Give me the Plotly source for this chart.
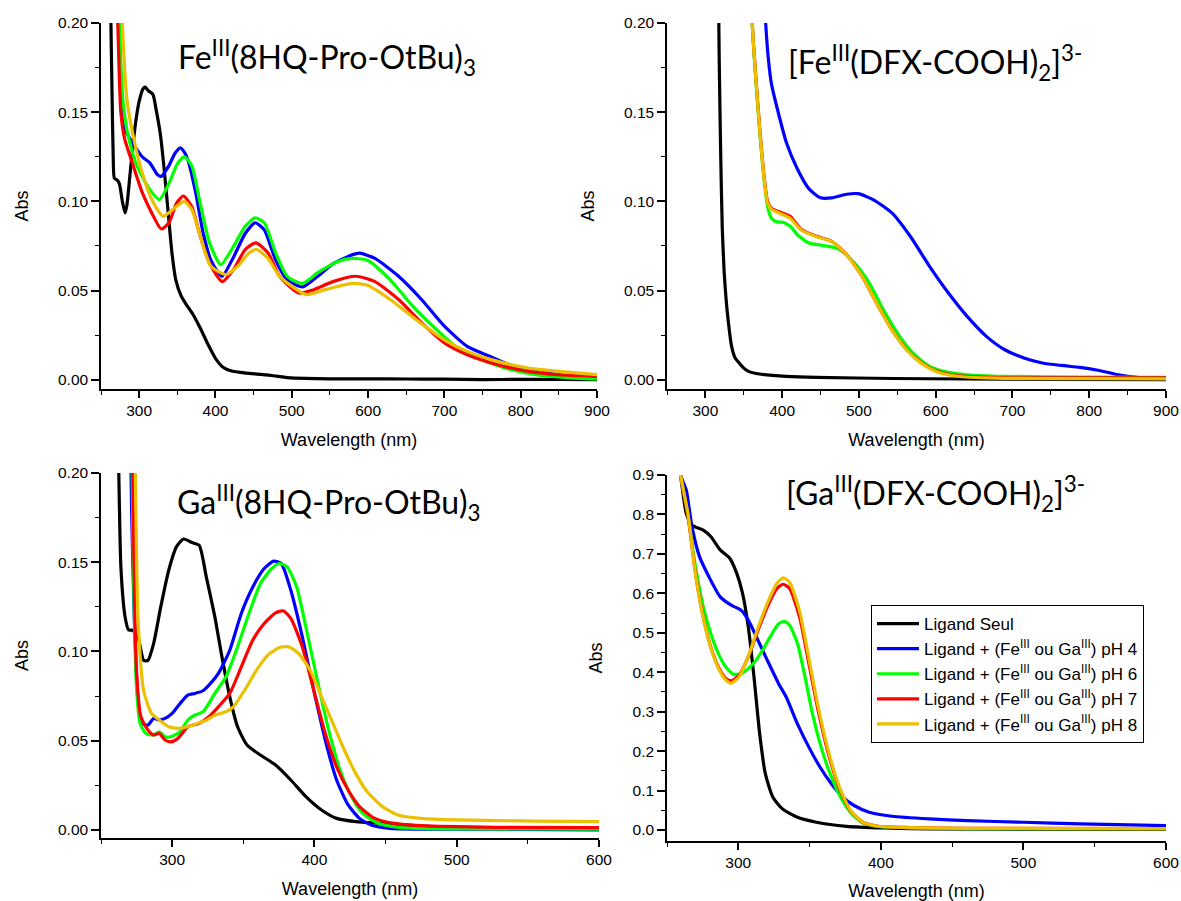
import plotly.graph_objects as go

# ---------------- Panel 1 : Fe(III)(8HQ-Pro-OtBu)3 ----------------
p1_black_wl = [261, 263, 264.5, 266, 267.5, 271, 274, 278, 281.5, 284, 288, 292, 296, 300, 305, 308, 312, 318, 322, 328, 333, 338, 343, 348, 355, 362, 370, 380, 390, 400, 410, 420, 440, 460, 480, 500, 550, 600, 650, 700, 750, 800, 850, 900]
p1_black_abs = [0.26, 0.2, 0.16, 0.125, 0.113, 0.112, 0.110, 0.100, 0.0935, 0.098, 0.115, 0.132, 0.146, 0.156, 0.163, 0.164, 0.162, 0.160, 0.152, 0.137, 0.117, 0.094, 0.071, 0.056, 0.047, 0.042, 0.037, 0.029, 0.020, 0.012, 0.007, 0.005, 0.0037, 0.003, 0.002, 0.001, 0.0005, 0.0005, 0.0004, 0.0003, 0.0001, 0.0002, 0.0002, 0.0001]
p1_blue_wl = [271, 274, 276, 279, 284, 294, 304, 314, 324, 329, 339, 347, 354, 360, 364, 374, 384, 394, 404, 409, 424, 439, 452, 464, 479, 494, 514, 534, 554, 579, 589, 609, 640, 670, 700, 730, 760, 790, 820, 850, 900]
p1_blue_abs = [0.26, 0.2, 0.165, 0.143, 0.138, 0.131, 0.125, 0.1216, 0.115, 0.114, 0.120, 0.127, 0.130, 0.127, 0.123, 0.105, 0.082, 0.067, 0.060, 0.058, 0.069, 0.082, 0.088, 0.084, 0.067, 0.056, 0.052, 0.058, 0.065, 0.070, 0.071, 0.068, 0.058, 0.045, 0.030, 0.0187, 0.013, 0.0075, 0.0047, 0.0028, 0.001]
p1_green_wl = [271, 274, 279, 284, 289, 296, 304, 314, 326.5, 339, 350, 359, 369, 379, 392, 407, 424, 439, 452, 464, 479, 494, 514, 534, 559, 579, 599, 629, 659, 690, 720, 750, 780, 820, 860, 900]
p1_green_abs = [0.26, 0.2, 0.155, 0.14, 0.131, 0.121, 0.114, 0.1066, 0.101, 0.110, 0.121, 0.125, 0.120, 0.101, 0.077, 0.0645, 0.075, 0.086, 0.0907, 0.088, 0.071, 0.058, 0.054, 0.060, 0.066, 0.068, 0.067, 0.056, 0.041, 0.028, 0.0168, 0.011, 0.0065, 0.0028, 0.0012, 0.0004]
p1_red_wl = [269, 272, 276, 281, 291, 304, 316.5, 329, 339, 349, 358, 369, 379, 392, 409, 424, 439, 453, 469, 484, 509, 529, 554, 584, 609, 640, 670, 700, 730, 770, 810, 850, 900]
p1_red_abs = [0.26, 0.2, 0.15, 0.135, 0.1216, 0.105, 0.0935, 0.0845, 0.088, 0.099, 0.103, 0.097, 0.082, 0.0655, 0.055, 0.062, 0.073, 0.0767, 0.071, 0.058, 0.0486, 0.0505, 0.055, 0.058, 0.055, 0.045, 0.032, 0.0206, 0.014, 0.0084, 0.0047, 0.0028, 0.0019]
p1_yellow_wl = [274, 278, 284, 294, 304, 316.5, 331.5, 344, 359, 369, 379, 394, 414, 429, 444, 454, 469, 484, 519, 544, 579, 599, 629, 665, 700, 730, 770, 810, 850, 900]
p1_yellow_abs = [0.26, 0.2, 0.157, 0.133, 0.116, 0.101, 0.0916, 0.0954, 0.100, 0.0954, 0.082, 0.0636, 0.059, 0.0636, 0.071, 0.073, 0.068, 0.058, 0.0477, 0.0505, 0.054, 0.053, 0.045, 0.033, 0.0224, 0.0159, 0.0103, 0.0065, 0.0047, 0.0028]

# ---------------- Panel 2 : [Fe(III)(DFX-COOH)2]3- ----------------
p2_black_wl = [316, 318, 320, 322, 324.5, 327, 330, 334, 339, 344, 350, 356, 366, 380, 405, 445, 545, 640, 750, 900]
p2_black_abs = [0.26, 0.18, 0.125, 0.085, 0.06, 0.045, 0.032, 0.019, 0.012, 0.0094, 0.0065, 0.0047, 0.0035, 0.0027, 0.0019, 0.0013, 0.0007, 0.0004, 0.0002, 0.0]
p2_blue_wl = [375, 378.5, 382, 386, 396, 405.5, 420, 435, 450, 464.5, 484, 499, 518.5, 543, 567.5, 592, 616.6, 641, 666, 690, 715, 739, 764, 788, 813, 837.5, 862, 900]
p2_blue_abs = [0.23, 0.2, 0.18, 0.166, 0.148, 0.133, 0.118, 0.107, 0.102, 0.102, 0.104, 0.1043, 0.101, 0.0935, 0.080, 0.0636, 0.0486, 0.0355, 0.0243, 0.0168, 0.0122, 0.0094, 0.008, 0.0069, 0.0052, 0.0028, 0.0013, 0.0004]
p2_green_wl = [359, 361, 366, 371, 376, 381, 386, 393, 401, 410.5, 420, 435, 454.6, 474, 494, 513.5, 533, 553, 572.5, 592, 616.6, 641, 690, 788, 900]
p2_green_abs = [0.23, 0.2, 0.166, 0.138, 0.114, 0.097, 0.0905, 0.0885, 0.0883, 0.086, 0.0813, 0.0767, 0.0752, 0.0733, 0.0655, 0.0542, 0.0383, 0.0243, 0.014, 0.0075, 0.0041, 0.0028, 0.0019, 0.0015, 0.0013]
p2_red_wl = [359, 361, 366, 371, 376, 381, 386, 396, 410.5, 425, 445, 464.5, 484, 504, 523, 543, 562.6, 582, 602, 631, 690, 800, 900]
p2_red_abs = [0.23, 0.2, 0.168, 0.14, 0.116, 0.100, 0.096, 0.0942, 0.0916, 0.0842, 0.0804, 0.0776, 0.0701, 0.058, 0.043, 0.028, 0.0168, 0.0094, 0.0047, 0.0022, 0.0011, 0.001, 0.001]
p2_yellow_wl = [359, 361, 366, 371, 376, 381, 386, 396, 410.5, 425, 445, 464.5, 484, 504, 523, 543, 562.6, 582, 602, 631, 690, 800, 900]
p2_yellow_abs = [0.23, 0.2, 0.167, 0.139, 0.115, 0.099, 0.0955, 0.0935, 0.0905, 0.0838, 0.0802, 0.0775, 0.070, 0.058, 0.043, 0.0278, 0.0165, 0.009, 0.0043, 0.0018, 0.0008, 0.0006, 0.0005]

# ---------------- Panel 3 : Ga(III)(8HQ-Pro-OtBu)3 ----------------
p3_black_wl = [261, 262.5, 264, 267, 269.4, 272, 276, 280, 283, 287, 292, 297.6, 303, 308, 314, 319, 324, 330, 335, 340.5, 346, 352.6, 362, 372.7, 383.4, 394, 405, 415.6, 429, 448, 475, 501.5, 555, 600]
p3_black_abs = [0.26, 0.2, 0.147, 0.119, 0.112, 0.112, 0.108, 0.095, 0.095, 0.1045, 0.125, 0.1455, 0.1586, 0.163, 0.161, 0.1595, 0.1418, 0.1194, 0.097, 0.0746, 0.0578, 0.0476, 0.042, 0.0364, 0.028, 0.0187, 0.0112, 0.0065, 0.0047, 0.0037, 0.0022, 0.0015, 0.0009, 0.0006]
p3_blue_wl = [270, 271.5, 273.4, 276, 279, 283, 287, 291, 295, 300, 305.6, 311, 316, 321.7, 327, 332.5, 340.5, 348.6, 356.6, 364.7, 371.4, 376.7, 383.4, 391.5, 399.5, 407.6, 415.6, 423.7, 431.7, 439.8, 453, 501.5, 600]
p3_blue_abs = [0.26, 0.18, 0.119, 0.0728, 0.0597, 0.0588, 0.0625, 0.0616, 0.0625, 0.0653, 0.0709, 0.0756, 0.0765, 0.078, 0.0821, 0.0877, 0.1007, 0.1213, 0.136, 0.1465, 0.1506, 0.1493, 0.1343, 0.1082, 0.0784, 0.0504, 0.028, 0.014, 0.0065, 0.0028, 0.0009, 0.0004, 0.0]
p3_green_wl = [271, 272.5, 274.8, 277.5, 281.5, 287, 291, 295, 299, 305.6, 311, 316, 321.7, 330, 337.8, 346, 354, 362, 370, 375.4, 380.8, 387.5, 394, 402, 410, 418, 426, 434, 445, 461, 501.5, 600]
p3_green_abs = [0.26, 0.16, 0.082, 0.0597, 0.0541, 0.0532, 0.055, 0.0522, 0.0522, 0.055, 0.0616, 0.0644, 0.0662, 0.0765, 0.0858, 0.1026, 0.1213, 0.138, 0.1465, 0.1493, 0.1474, 0.1362, 0.1138, 0.084, 0.056, 0.0336, 0.0187, 0.0093, 0.0037, 0.0013, 0.0006, 0.0004]
p3_red_wl = [271.5, 273, 274.8, 278, 283, 287, 291, 295, 299, 304, 311, 319, 325.8, 332.5, 340.5, 348.6, 356.6, 364.7, 372.7, 378, 383.4, 391.5, 399.5, 407.6, 415.6, 423.7, 431.7, 442.4, 456, 474.7, 528, 600]
p3_red_abs = [0.26, 0.16, 0.0914, 0.0634, 0.056, 0.0532, 0.0541, 0.0504, 0.0494, 0.0513, 0.0578, 0.0597, 0.0634, 0.069, 0.0765, 0.0914, 0.1063, 0.1157, 0.1216, 0.1228, 0.1185, 0.1026, 0.0784, 0.0541, 0.0354, 0.0224, 0.0131, 0.0065, 0.0037, 0.0024, 0.0015, 0.0013]
p3_yellow_wl = [273, 274.5, 276, 280, 285.5, 291, 297.6, 304, 311, 317.7, 324.4, 330, 337.8, 343, 351, 359.3, 367.3, 375.4, 382, 388.8, 396.9, 405, 413, 421, 429, 437, 447.8, 458.6, 474.7, 501.5, 555, 600]
p3_yellow_abs = [0.26, 0.18, 0.119, 0.078, 0.0653, 0.0616, 0.0578, 0.0569, 0.0578, 0.0597, 0.0616, 0.0644, 0.0662, 0.069, 0.0784, 0.0896, 0.098, 0.1022, 0.1026, 0.0989, 0.0896, 0.0746, 0.0597, 0.0448, 0.0317, 0.0215, 0.0131, 0.0084, 0.0065, 0.0056, 0.005, 0.0047]

# ---------------- Panel 4 : [Ga(III)(DFX-COOH)2]3- ----------------
p4_black_wl = [257, 259.5, 263.5, 267.5, 275.4, 280.7, 287.3, 294, 299, 303, 307, 311, 315, 319, 324.3, 331, 341.5, 354.8, 376, 402, 434, 600]
p4_black_abs = [0.97, 0.9, 0.803, 0.773, 0.76, 0.744, 0.71, 0.689, 0.65, 0.6, 0.515, 0.388, 0.244, 0.142, 0.083, 0.0534, 0.032, 0.0195, 0.0093, 0.005, 0.0025, 0.0017]
p4_blue_wl = [257, 259.5, 263.5, 267.5, 272.8, 279.4, 287.3, 295, 302, 307, 313.8, 320.4, 328.3, 333.6, 341.5, 349.5, 357.4, 365.3, 373.3, 381.2, 391.8, 407.7, 434, 460.6, 500, 540, 600]
p4_blue_abs = [0.97, 0.9, 0.862, 0.769, 0.693, 0.642, 0.591, 0.57, 0.557, 0.532, 0.481, 0.43, 0.371, 0.337, 0.269, 0.21, 0.159, 0.117, 0.083, 0.062, 0.045, 0.0347, 0.028, 0.0237, 0.0195, 0.0152, 0.011]
p4_green_wl = [257, 259.5, 264.8, 270, 275.4, 280.7, 286, 291.3, 296.6, 302, 307, 312.4, 317.7, 323, 328.3, 332.3, 336, 341.5, 346.8, 352, 357.4, 362.7, 370.6, 378.6, 386.5, 397, 421, 460.6, 600]
p4_green_abs = [0.97, 0.9, 0.795, 0.667, 0.566, 0.498, 0.447, 0.413, 0.395, 0.396, 0.409, 0.43, 0.46, 0.494, 0.523, 0.529, 0.519, 0.473, 0.388, 0.295, 0.219, 0.159, 0.091, 0.045, 0.0195, 0.0093, 0.005, 0.0034, 0.0025]
p4_red_wl = [257, 259.5, 264.8, 270, 275.4, 280.7, 286, 291.3, 295, 300.5, 307, 313.8, 320.4, 327, 331.5, 336, 343, 349.5, 356, 362.7, 370.6, 378.6, 386.5, 397, 421, 460.6, 600]
p4_red_abs = [0.97, 0.9, 0.795, 0.65, 0.54, 0.464, 0.413, 0.384, 0.378, 0.392, 0.439, 0.506, 0.566, 0.612, 0.623, 0.612, 0.54, 0.422, 0.303, 0.2, 0.108, 0.049, 0.022, 0.01, 0.006, 0.004, 0.0034]
p4_yellow_wl = [257, 259.5, 264.8, 270, 275.4, 280.7, 286, 291.3, 295, 300.5, 307, 313.8, 320.4, 327, 331.5, 336, 343, 349.5, 356, 362.7, 370.6, 378.6, 386.5, 397, 421, 460.6, 600]
p4_yellow_abs = [0.97, 0.9, 0.8, 0.648, 0.538, 0.462, 0.41, 0.38, 0.372, 0.388, 0.44, 0.512, 0.575, 0.625, 0.639, 0.628, 0.555, 0.435, 0.313, 0.207, 0.112, 0.05, 0.022, 0.01, 0.006, 0.004, 0.0034]

series_names = [
    "Ligand Seul",
    "Ligand + (Fe<sup>III</sup> ou Ga<sup>III</sup>) pH 4",
    "Ligand + (Fe<sup>III</sup> ou Ga<sup>III</sup>) pH 6",
    "Ligand + (Fe<sup>III</sup> ou Ga<sup>III</sup>) pH 7",
    "Ligand + (Fe<sup>III</sup> ou Ga<sup>III</sup>) pH 8",
]
series_colors = ["#000000", "#0000FF", "#00FF00", "#FF0000", "#EBC000"]

panel_titles = [
    "Fe<sup>III</sup>(8HQ-Pro-OtBu)<sub>3</sub>",
    "[Fe<sup>III</sup>(DFX-COOH)<sub>2</sub>]<sup>3-</sup>",
    "Ga<sup>III</sup>(8HQ-Pro-OtBu)<sub>3</sub>",
    "[Ga<sup>III</sup>(DFX-COOH)<sub>2</sub>]<sup>3-</sup>",
]

panels = [
    [(p1_black_wl, p1_black_abs), (p1_blue_wl, p1_blue_abs), (p1_green_wl, p1_green_abs), (p1_red_wl, p1_red_abs), (p1_yellow_wl, p1_yellow_abs)],
    [(p2_black_wl, p2_black_abs), (p2_blue_wl, p2_blue_abs), (p2_green_wl, p2_green_abs), (p2_red_wl, p2_red_abs), (p2_yellow_wl, p2_yellow_abs)],
    [(p3_black_wl, p3_black_abs), (p3_blue_wl, p3_blue_abs), (p3_green_wl, p3_green_abs), (p3_red_wl, p3_red_abs), (p3_yellow_wl, p3_yellow_abs)],
    [(p4_black_wl, p4_black_abs), (p4_blue_wl, p4_blue_abs), (p4_green_wl, p4_green_abs), (p4_red_wl, p4_red_abs), (p4_yellow_wl, p4_yellow_abs)],
]

fig = go.Figure()
for pi, panel in enumerate(panels):
    xa = "x" if pi == 0 else f"x{pi+1}"
    ya = "y" if pi == 0 else f"y{pi+1}"
    for si, (wl, ab) in enumerate(panel):
        fig.add_trace(go.Scatter(
            x=wl, y=ab, mode="lines", xaxis=xa, yaxis=ya,
            name=series_names[si],
            legendgroup=f"g{si}",
            showlegend=(pi == 3),
            line=dict(color=series_colors[si], width=3.2, shape="spline", smoothing=0.6),
        ))

W, H = 1181, 901
AX_FONT = dict(family="Liberation Sans", size=15.5, color="black")
TITLE_FONT = dict(family="Liberation Sans", size=18, color="black")

def xaxis(domain, rng, anchor):
    return dict(domain=domain, range=rng, anchor=anchor, automargin=False,
                showline=True, linecolor="black", linewidth=1.5,
                ticks="outside", ticklen=7, tickwidth=1.5, tickcolor="black", dtick=100, tick0=0,
                minor=dict(ticks="outside", ticklen=4, tickwidth=1.2, tickcolor="black", dtick=50, tick0=0, showgrid=False),
                showgrid=False, zeroline=False, tickfont=AX_FONT,
                title=dict(text="Wavelength (nm)", font=TITLE_FONT, standoff=15))

def yaxis(domain, rng, anchor, dt, mdt, fmt):
    return dict(domain=domain, range=rng, anchor=anchor, automargin=False,
                showline=True, linecolor="black", linewidth=1.5,
                ticks="outside", ticklen=8, tickwidth=1.5, tickcolor="black", dtick=dt, tick0=0,
                minor=dict(ticks="outside", ticklen=4, tickwidth=1.2, tickcolor="black", dtick=mdt, tick0=0, showgrid=False),
                showgrid=False, zeroline=False, tickfont=AX_FONT, tickformat=fmt,
                title=dict(text="Abs", font=TITLE_FONT, standoff=25))

def px_x(p):
    return p / W

def px_y(p):
    return 1 - p / H

fig.update_layout(
    width=W, height=H,
    margin=dict(l=0, r=0, t=0, b=0, autoexpand=False),
    paper_bgcolor="white", plot_bgcolor="white",
    xaxis=xaxis([px_x(101), px_x(597)], [250, 900], "y"),
    yaxis=yaxis([px_y(389), px_y(23)], [-0.0052, 0.2], "x", 0.05, 0.025, ".2f"),
    xaxis2=xaxis([px_x(667), px_x(1166)], [250, 900], "y2"),
    yaxis2=yaxis([px_y(389), px_y(23)], [-0.0052, 0.2], "x2", 0.05, 0.025, ".2f"),
    xaxis3=xaxis([px_x(101), px_x(599)], [250, 600], "y3"),
    yaxis3=yaxis([px_y(838), px_y(473)], [-0.0045, 0.2], "x3", 0.05, 0.025, ".2f"),
    xaxis4=xaxis([px_x(667), px_x(1166)], [250, 600], "y4"),
    yaxis4=yaxis([px_y(841), px_y(475)], [-0.028, 0.9], "x4", 0.1, 0.05, ".1f"),
    legend=dict(
        x=px_x(871), y=px_y(605), xanchor="left", yanchor="top",
        bordercolor="black", borderwidth=1, bgcolor="white",
        font=dict(family="Liberation Sans", size=17, color="black"),
        tracegroupgap=3, traceorder="normal", itemwidth=42,
    ),
)

title_pos = [(327, 58), (935, 62), (328, 502), (935, 493)]
for t, (cx, cy) in zip(panel_titles, title_pos):
    fig.add_annotation(text=t, xref="paper", yref="paper", x=px_x(cx), y=px_y(cy),
                       xanchor="center", yanchor="middle", showarrow=False,
                       font=dict(family="Lato", size=32, color="black"))

fig.write_html("out.html", config={"displayModeBar": False},
               post_script="document.body.style.margin='0px';")
